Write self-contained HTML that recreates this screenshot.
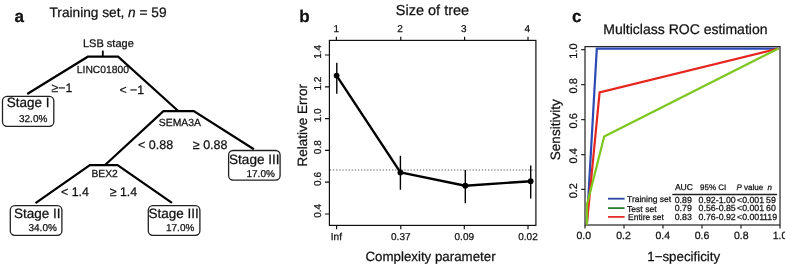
<!DOCTYPE html>
<html><head><meta charset="utf-8">
<style>
html,body{margin:0;padding:0;background:#fff;width:785px;height:265px;overflow:hidden}
svg{display:block;will-change:transform}
text{font-family:"Liberation Sans",sans-serif;fill:#111;stroke:#111;stroke-width:0.25px;text-rendering:geometricPrecision}
</style></head><body>
<svg width="785" height="265" viewBox="0 0 785 265">
<!-- ===== Panel a ===== -->
<text x="14.5" y="21.5" font-size="17" font-weight="bold">a</text>
<text x="49.5" y="17.4" font-size="13.7">Training set, <tspan font-style="italic">n</tspan> = 59</text>
<g stroke="#000" stroke-width="2.2" fill="none" stroke-linejoin="miter" stroke-linecap="butt">
  <path d="M102.8 50.6 V56.7" stroke-width="1.8"/>
  <path d="M27.2 94 L87.8 56.7 H118.1 L178.5 111.3"/>
  <path d="M104.8 165.2 L163.4 111.1 H193.8 L253.9 149.2"/>
  <path d="M35.5 203.2 L89.9 165.2 H117.5 L172 202.8"/>
</g>
<text x="83" y="46.9" font-size="11">LSB stage</text>
<text x="76.8" y="73.4" font-size="10.3">LINC01800</text>
<text x="51.6" y="92" font-size="12.3">≥−1</text>
<text x="119.4" y="93.6" font-size="12.3">&lt; −1</text>
<text x="158.8" y="125.6" font-size="10.4">SEMA3A</text>
<text x="138" y="148.6" font-size="12.5">&lt; 0.88</text>
<text x="192.8" y="148.6" font-size="12.5">≥ 0.88</text>
<text x="91.4" y="176.7" font-size="10.3">BEX2</text>
<text x="61" y="195.8" font-size="12.4">&lt; 1.4</text>
<text x="109.7" y="195.8" font-size="12.4">≥ 1.4</text>
<g fill="none" stroke="#222" stroke-width="1.3">
  <rect x="2.5" y="96.3" width="51.3" height="30" rx="4.5"/>
  <rect x="228.6" y="150.5" width="51.5" height="29.6" rx="4.5"/>
  <rect x="10.3" y="205.7" width="51.6" height="29.6" rx="4.5"/>
  <rect x="148.3" y="205.7" width="51.6" height="29.6" rx="4.5"/>
</g>
<text x="6.8" y="107.1" font-size="13.5">Stage I</text>
<text x="19" y="121.6" font-size="10">32.0%</text>
<text x="229" y="164.3" font-size="13.6">Stage III</text>
<text x="246.5" y="177" font-size="10">17.0%</text>
<text x="13.9" y="217.6" font-size="13.5">Stage II</text>
<text x="28.5" y="231.4" font-size="10">34.0%</text>
<text x="148.5" y="217.6" font-size="13.5">Stage III</text>
<text x="166" y="231.4" font-size="10">17.0%</text>

<!-- ===== Panel b ===== -->
<text x="299.2" y="21.8" font-size="17" font-weight="bold">b</text>
<text x="395.8" y="14.5" font-size="14.5">Size of tree</text>
<g font-size="10" text-anchor="middle">
  <text x="336.4" y="31.7">1</text>
  <text x="400" y="31.7">2</text>
  <text x="463.8" y="31.7">3</text>
  <text x="527.4" y="31.7">4</text>
  <text x="336.4" y="239.7">Inf</text>
  <text x="400.8" y="239.7">0.37</text>
  <text x="464.3" y="239.7">0.09</text>
  <text x="528" y="239.7">0.02</text>
</g>
<g stroke="#111" stroke-width="1.2" fill="none">
  <rect x="329.4" y="40.4" width="206.5" height="185"/>
  <path d="M336.4 36.8V40.4M400.8 36.8V40.4M464.6 36.8V40.4M528 36.8V40.4"/>
  <path d="M336.6 225.4V229.3M400.8 225.4V229.3M464.3 225.4V229.3M528 225.4V229.3"/>
  <path d="M325 55H329M325 86.8H329M325 118.6H329M325 150.4H329M325 182.2H329M325 214H329"/>
</g>
<g font-size="10" text-anchor="middle">
  <text transform="translate(320.6 51.8) rotate(-90)">1.4</text>
  <text transform="translate(320.6 83.6) rotate(-90)">1.2</text>
  <text transform="translate(320.6 115.4) rotate(-90)">1.0</text>
  <text transform="translate(320.6 147.2) rotate(-90)">0.8</text>
  <text transform="translate(320.6 179.0) rotate(-90)">0.6</text>
  <text transform="translate(320.6 210.8) rotate(-90)">0.4</text>
</g>
<text transform="translate(307.2 125.3) rotate(-90)" font-size="13.5" text-anchor="middle">Relative Error</text>
<text x="365.5" y="260.6" font-size="13.3">Complexity parameter</text>
<path d="M330 170H535.5" stroke="#555" stroke-width="1" stroke-dasharray="1.2 1.9" fill="none"/>
<g stroke="#000" stroke-width="1.4">
  <path d="M336.8 62.7V93.7M400.4 155.8V189.8M465.3 169.9V203.2M530.7 165.4V198.6"/>
</g>
<path d="M336.6 75.6L400.4 172.4L465.3 185.7L530.7 181.2" stroke="#000" stroke-width="2.4" fill="none" stroke-linejoin="round"/>
<g fill="#000">
  <circle cx="336.6" cy="75.6" r="2.9"/>
  <circle cx="400.4" cy="172.4" r="2.9"/>
  <circle cx="465.3" cy="185.7" r="2.9"/>
  <circle cx="530.7" cy="181.2" r="2.9"/>
</g>

<!-- ===== Panel c ===== -->
<text x="572" y="22" font-size="17" font-weight="bold">c</text>
<text x="603.3" y="33.8" font-size="14">Multiclass ROC estimation</text>
<g stroke="#2a2a2a" stroke-width="1.25" fill="none">
  <rect x="585" y="46.6" width="195" height="178.4"/>
  <path d="M581.2 49.7H585M581.2 84.6H585M581.2 119.5H585M581.2 154.5H585M581.2 189.4H585"/>
  <path d="M585 225V228.5M624 225V228.5M663 225V228.5M702 225V228.5M741 225V228.5M780 225V228.5"/>
</g>
<g font-size="10.5" text-anchor="middle">
  <text font-size="11" transform="translate(577.4 51) rotate(-90)">1.0</text>
  <text font-size="11" transform="translate(577.4 85.9) rotate(-90)">0.8</text>
  <text font-size="11" transform="translate(577.4 120.8) rotate(-90)">0.6</text>
  <text font-size="11" transform="translate(577.4 155.8) rotate(-90)">0.4</text>
  <text font-size="11" transform="translate(577.4 190.7) rotate(-90)">0.2</text>
  <text x="583.7" y="239.3">0.0</text>
  <text x="623.5" y="239.3">0.2</text>
  <text x="662.7" y="239.3">0.4</text>
  <text x="702" y="239.3">0.6</text>
  <text x="741.3" y="239.3">0.8</text>
  <text x="780" y="239.3">1.0</text>
</g>
<text transform="translate(559.5 129.75) rotate(-90)" font-size="13.5" text-anchor="middle">Sensitivity</text>
<text x="647.3" y="260.5" font-size="13.3">1−specificity</text>
<g fill="none" stroke-width="2.2" stroke-linejoin="miter">
  <path d="M586.8 224.3L596.8 48.6H778.5" stroke="#2b4ab5"/>
  <path d="M586.8 224.3L599.6 92.5L778.5 48.5" stroke="#e6261e"/>
  <path d="M587 224.8V204.5L604.2 136.6L778.5 48.5" stroke="#7cc61e"/>
</g>
<g stroke-width="1.8">
  <path d="M608 198.7H624.6" stroke="#2846a8"/>
  <path d="M608 208.1H624.6" stroke="#2e7d2e"/>
  <path d="M608 216.9H624.6" stroke="#e8302a"/>
</g>
<path d="M672.3 194.5H777.1" stroke="#222" stroke-width="1.4"/>
<g font-size="8.8">
  <text x="627" y="202.2" font-size="8.5">Training set</text>
  <text x="627" y="211.5" font-size="8.6">Test set</text>
  <text x="628" y="220.2" font-size="8.5">Entire set</text>
  <text x="674.9" y="189.9" font-size="8.6">AUC</text>
  <text x="700" y="190" font-size="8">95% CI</text>
  <text x="736.5" y="190" font-size="8"><tspan font-style="italic">P</tspan> value</text>
  <text x="767.4" y="190" font-size="8" font-style="italic">n</text>
  <text x="674.7" y="202.6">0.89</text>
  <text x="674.7" y="211.3">0.79</text>
  <text x="674.7" y="220">0.83</text>
  <text x="698.6" y="202.6">0.92-1.00</text>
  <text x="698.6" y="211.3">0.56-0.85</text>
  <text x="698.6" y="220.2">0.76-0.92</text>
  <text x="737" y="202.6">&lt;0.001</text>
  <text x="737" y="211.3">&lt;0.001</text>
  <text x="737" y="220">&lt;0.001</text>
  <text x="766" y="202.6">59</text>
  <text x="766" y="211.3">60</text>
  <text x="763" y="220">119</text>
</g>
</svg>
</body></html>
